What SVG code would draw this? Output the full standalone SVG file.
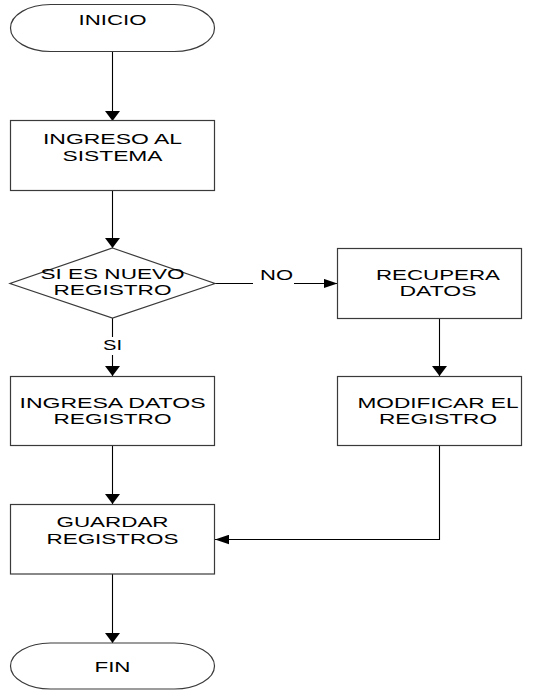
<svg xmlns="http://www.w3.org/2000/svg" width="534" height="690" viewBox="0 0 534 690">
  <defs>
    <style>
      .shape { fill: #ffffff; stroke: #3a3a3a; stroke-width: 1.2; }
      .conn { fill: none; stroke: #000000; stroke-width: 1.1; }
      .lbl { font-family: "Liberation Sans", Arial, sans-serif; font-size: 14.5px; fill: #000000; text-anchor: middle; }
    </style>
    <!-- arrowheads: drawn wider across than along the line -->
    <marker id="ah-down" markerUnits="userSpaceOnUse" viewBox="0 0 15 10" markerWidth="15" markerHeight="10" refX="7.5" refY="10" orient="0">
      <path d="M0,0 L15,0 L7.5,10 Z" fill="#000"/>
    </marker>
    <marker id="ah-right" markerUnits="userSpaceOnUse" viewBox="0 0 14 10" markerWidth="14" markerHeight="10" refX="14" refY="5" orient="0">
      <path d="M0,0.25 L14,5 L0,9.75 Z" fill="#000"/>
    </marker>
    <marker id="ah-left" markerUnits="userSpaceOnUse" viewBox="0 0 14 10" markerWidth="14" markerHeight="10" refX="0" refY="5" orient="0">
      <path d="M14,0.25 L0,5 L14,9.75 Z" fill="#000"/>
    </marker>
  </defs>

  <rect width="534" height="690" fill="#ffffff"/>

  <!-- connectors -->
  <g id="connectors">
    <path class="conn" d="M112.5,51.5 V121" marker-end="url(#ah-down)"/>
    <path class="conn" d="M112.5,190.5 V248" marker-end="url(#ah-down)"/>
    <path class="conn" d="M112.5,318 V337 M112.5,355 V376" marker-end="url(#ah-down)"/>
    <path class="conn" d="M215,283.5 H253 M294,283.5 H337.5" marker-end="url(#ah-right)"/>
    <path class="conn" d="M439.5,318 V376" marker-end="url(#ah-down)"/>
    <path class="conn" d="M112.5,446 V504" marker-end="url(#ah-down)"/>
    <path class="conn" d="M439.5,446 V539.5 H215" marker-end="url(#ah-left)"/>
    <path class="conn" d="M112.5,574 V643" marker-end="url(#ah-down)"/>
    <text class="lbl" x="112.5" y="350" textLength="19" lengthAdjust="spacingAndGlyphs">SI</text>
    <text class="lbl" x="276.5" y="280" textLength="33" lengthAdjust="spacingAndGlyphs">NO</text>
  </g>

  <g id="inicio">
    <rect class="shape" x="10.5" y="4.5" width="204" height="47" rx="40" ry="23.5"/>
    <text class="lbl" x="112.5" y="24.5" textLength="68" lengthAdjust="spacingAndGlyphs">INICIO</text>
  </g>

  <g id="ingreso-sistema">
    <rect class="shape" x="10.5" y="120.5" width="204" height="70"/>
    <text class="lbl" x="112.5" y="144" textLength="139" lengthAdjust="spacingAndGlyphs">INGRESO AL</text>
    <text class="lbl" x="112.5" y="160.5" textLength="100" lengthAdjust="spacingAndGlyphs">SISTEMA</text>
  </g>

  <g id="nuevo-registro">
    <polygon class="shape" points="112.5,248 215,283.5 112.5,318 10,283.5"/>
    <text class="lbl" x="112.5" y="278.5" textLength="144" lengthAdjust="spacingAndGlyphs">SI ES NUEVO</text>
    <text class="lbl" x="112.5" y="295" textLength="118" lengthAdjust="spacingAndGlyphs">REGISTRO</text>
  </g>

  <g id="recupera-datos">
    <rect class="shape" x="337.5" y="248.5" width="184" height="70"/>
    <text class="lbl" x="438" y="280" textLength="124" lengthAdjust="spacingAndGlyphs">RECUPERA</text>
    <text class="lbl" x="438" y="296" textLength="77" lengthAdjust="spacingAndGlyphs">DATOS</text>
  </g>

  <g id="ingresa-datos">
    <rect class="shape" x="10.5" y="376.5" width="204" height="69"/>
    <text class="lbl" x="112.5" y="407.5" textLength="186" lengthAdjust="spacingAndGlyphs">INGRESA DATOS</text>
    <text class="lbl" x="112.5" y="423.5" textLength="118" lengthAdjust="spacingAndGlyphs">REGISTRO</text>
  </g>

  <g id="modificar-registro">
    <rect class="shape" x="337.5" y="376.5" width="184" height="69"/>
    <text class="lbl" x="438" y="407.5" textLength="161" lengthAdjust="spacingAndGlyphs">MODIFICAR EL</text>
    <text class="lbl" x="438" y="423.5" textLength="118" lengthAdjust="spacingAndGlyphs">REGISTRO</text>
  </g>

  <g id="guardar-registros">
    <rect class="shape" x="10.5" y="504.5" width="204" height="69.5"/>
    <text class="lbl" x="112.5" y="527" textLength="112" lengthAdjust="spacingAndGlyphs">GUARDAR</text>
    <text class="lbl" x="112.5" y="543.5" textLength="132" lengthAdjust="spacingAndGlyphs">REGISTROS</text>
  </g>

  <g id="fin">
    <rect class="shape" x="10.5" y="643" width="204" height="46" rx="40" ry="23"/>
    <text class="lbl" x="112.5" y="671.5" textLength="36" lengthAdjust="spacingAndGlyphs">FIN</text>
  </g>
</svg>
